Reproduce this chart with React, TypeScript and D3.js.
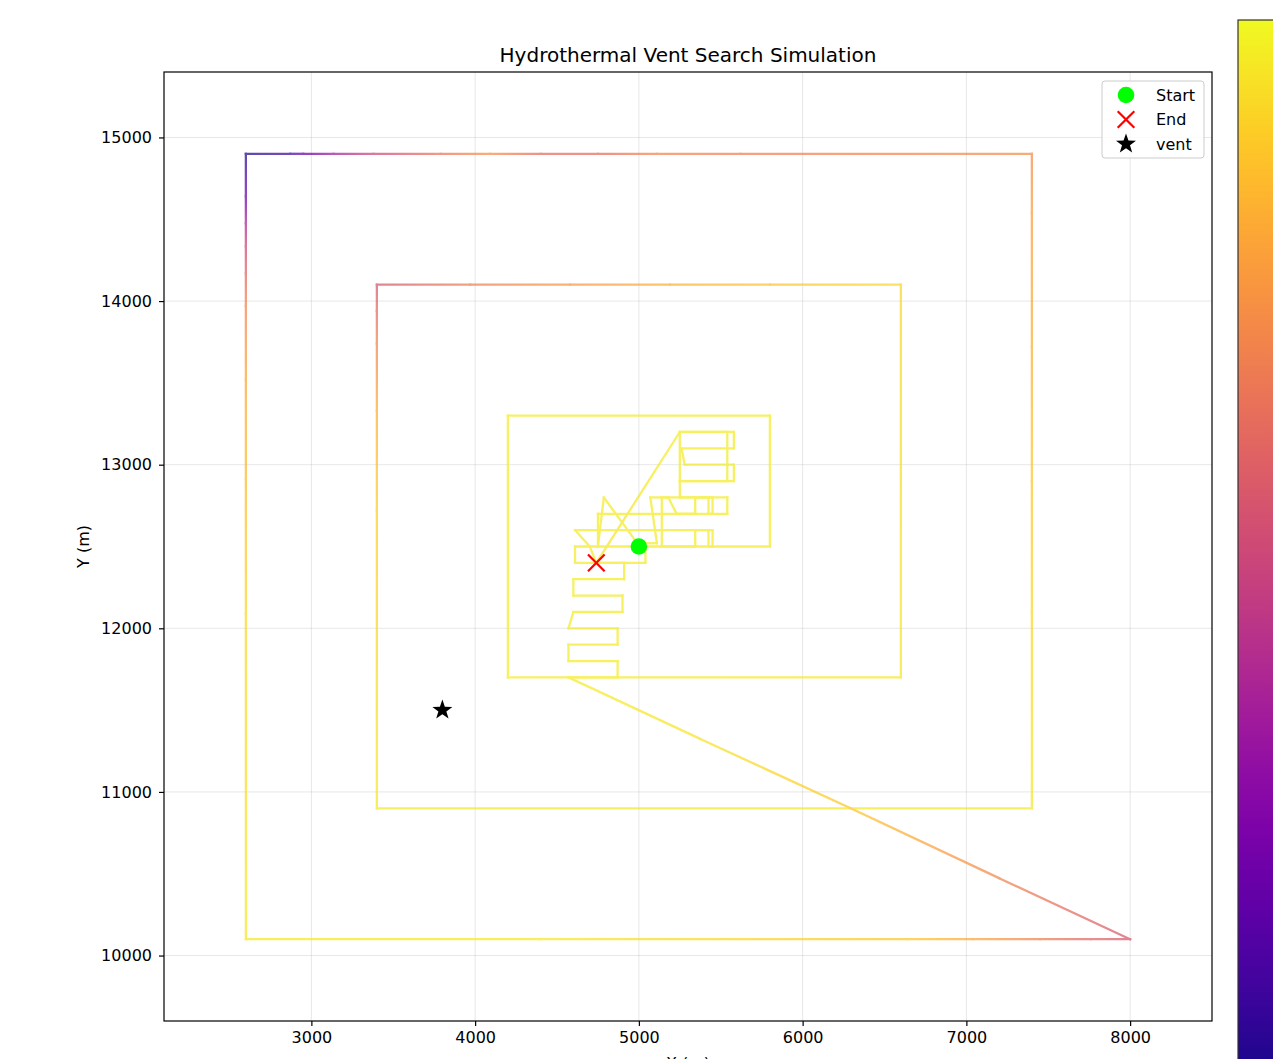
import React, { useEffect, useRef } from 'react';
import * as d3 from 'd3';

// survey track (m) and the sensor signal used for colouring (0..1)
const trackX = [
  5000, 5800, 5800, 4200, 4200, 6600, 6600, 5800, 5190, 4580, 3970, 3400,
  3400, 3400, 3400, 3400, 3400, 7400, 7400, 7400, 7400, 7400, 7400,
  5620, 5110, 4750, 4400, 4090, 3790, 3380, 3135, 2950, 2870, 2600,
  2600, 2600, 2600, 2600, 2600, 2600, 2600, 2600, 2600,
  4400, 6640, 7040, 7450, 7760, 8000,
  7200, 6290, 5375, 4570,
  4870, 4870, 4570, 4570, 4870, 4870, 4570, 4600, 4900, 4900, 4600, 4600, 4910, 4910, 4610, 4610, 5040, 5040, 4740,
  4700, 4610, 5450, 5450, 5425, 5425, 5344, 5344, 5140, 5140, 5540, 5540, 4750, 4750,
  4786, 4990, 5110, 5070, 5180, 5230, 5344, 5344, 5425, 5425, 5450, 5450, 5250,
  5250, 5580, 5580, 5260, 5280, 5580, 5580, 5250, 5540, 5540, 5250, 4740,
];
const trackY = [
  12500, 12500, 13300, 13300, 11700, 11700, 14100, 14100, 14100, 14100, 14100, 14100,
  13940, 13740, 13330, 12720, 10900, 10900, 12100, 12900, 13720, 14540, 14900,
  14900, 14900, 14900, 14900, 14900, 14900, 14900, 14900, 14900, 14900, 14900,
  14640, 14475, 14335, 14170, 13970, 13520, 12910, 12090, 10100,
  10100, 10100, 10100, 10100, 10100, 10100,
  10473, 10902, 11324, 11700,
  11700, 11800, 11800, 11900, 11900, 12000, 12000, 12100, 12100, 12200, 12200, 12300, 12300, 12400, 12400, 12500, 12500, 12400, 12400,
  12500, 12600, 12600, 12500, 12500, 12600, 12600, 12500, 12500, 12800, 12800, 12700, 12700, 12500,
  12800, 12520, 12520, 12800, 12800, 12700, 12700, 12800, 12800, 12700, 12700, 12800, 12800,
  13200, 13200, 13100, 13100, 13000, 13000, 12900, 12900, 12900, 13200, 13200, 12400,
];
const trackSignal = [
  0.97, 0.97, 0.97, 0.97, 0.97, 0.96, 0.92, 0.87, 0.82, 0.75, 0.68, 0.55,
  0.62, 0.7, 0.82, 0.9, 0.96, 0.96, 0.92, 0.88, 0.82, 0.77, 0.72,
  0.68, 0.7, 0.62, 0.62, 0.73, 0.65, 0.5, 0.35, 0.18, 0.1, 0.03,
  0.2, 0.38, 0.5, 0.6, 0.7, 0.8, 0.85, 0.92, 0.96,
  0.96, 0.88, 0.8, 0.68, 0.6, 0.55,
  0.7, 0.88, 0.95, 0.97,
  0.97, 0.97, 0.97, 0.97, 0.97, 0.97, 0.97, 0.97, 0.97, 0.97, 0.97, 0.97, 0.97, 0.97, 0.97, 0.97, 0.97, 0.97, 0.97,
  0.97, 0.97, 0.97, 0.97, 0.97, 0.97, 0.97, 0.97, 0.97, 0.97, 0.97, 0.97, 0.97, 0.97,
  0.97, 0.97, 0.97, 0.97, 0.97, 0.97, 0.97, 0.97, 0.97, 0.97, 0.97, 0.97, 0.97,
  0.97, 0.97, 0.97, 0.97, 0.97, 0.97, 0.97, 0.97, 0.97, 0.97, 0.97, 0.95,
];

const startPt = [5000, 12500];
const endPt = [4740, 12400];
const ventPt = [3800, 11500];

const xTicks = [3000, 4000, 5000, 6000, 7000, 8000];
const yTicks = [10000, 11000, 12000, 13000, 14000, 15000];
const legendLabels = ['Start', 'End', 'vent'];

const FONT = 'DejaVu Sans, sans-serif';

function starPath(cx: number, cy: number, r: number) {
  const pts: string[] = [];
  for (let i = 0; i < 10; i++) {
    const rad = i % 2 === 0 ? r : r * 0.4;
    const a = -Math.PI / 2 + (i * Math.PI) / 5;
    pts.push(`${cx + rad * Math.cos(a)},${cy + rad * Math.sin(a)}`);
  }
  return `M${pts.join('L')}Z`;
}

export default function App() {
  const svgRef = useRef<SVGSVGElement>(null);

  useEffect(() => {
    document.body.style.margin = '0';
    if (!svgRef.current) return;
    const root = d3.select(svgRef.current);
    root.selectAll('*').remove();

    const left = 164, right = 1212, top = 72, bottom = 1021;
    const x = d3.scaleLinear().domain([2100, 8500]).range([left, right]);
    const y = d3.scaleLinear().domain([9600, 15400]).range([bottom, top]);
    const cmap = d3.interpolatePlasma;
    const defs = root.append('defs');

    // grid
    const grid = root.append('g');
    xTicks.forEach((t) => {
      grid.append('line').attr('x1', x(t)).attr('x2', x(t)).attr('y1', top).attr('y2', bottom)
        .attr('stroke', '#b0b0b0').attr('stroke-opacity', 0.3).attr('stroke-width', 1);
    });
    yTicks.forEach((t) => {
      grid.append('line').attr('y1', y(t)).attr('y2', y(t)).attr('x1', left).attr('x2', right)
        .attr('stroke', '#b0b0b0').attr('stroke-opacity', 0.3).attr('stroke-width', 1);
    });

    // track, coloured segment by segment
    const plot = root.append('g').attr('opacity', 0.72);
    for (let i = 0; i < trackX.length - 1; i++) {
      const x1 = x(trackX[i]), y1 = y(trackY[i]);
      const x2 = x(trackX[i + 1]), y2 = y(trackY[i + 1]);
      const v1 = trackSignal[i], v2 = trackSignal[i + 1];
      let stroke = cmap(v1);
      if (v1 !== v2) {
        const id = `seg-${i}`;
        const g = defs.append('linearGradient').attr('id', id)
          .attr('gradientUnits', 'userSpaceOnUse')
          .attr('x1', x1).attr('y1', y1).attr('x2', x2).attr('y2', y2);
        d3.range(0, 1.0001, 0.25).forEach((t) => {
          g.append('stop').attr('offset', t).attr('stop-color', cmap(v1 + (v2 - v1) * t));
        });
        stroke = `url(#${id})`;
      }
      plot.append('line')
        .attr('x1', x1).attr('y1', y1).attr('x2', x2).attr('y2', y2)
        .attr('stroke', stroke).attr('stroke-width', 2.3)
        .attr('stroke-linecap', 'square');
    }

    // markers
    root.append('path').attr('d', starPath(x(ventPt[0]), y(ventPt[1]), 10.5)).attr('fill', 'black');
    root.append('circle').attr('cx', x(startPt[0])).attr('cy', y(startPt[1])).attr('r', 8.3).attr('fill', '#00ff00');
    const ex = x(endPt[0]), ey = y(endPt[1]), s = 8.3;
    root.append('path').attr('d', `M${ex - s},${ey - s}L${ex + s},${ey + s}M${ex - s},${ey + s}L${ex + s},${ey - s}`)
      .attr('stroke', 'red').attr('stroke-width', 2.2);

    // axes
    const xAxis = root.append('g').attr('transform', `translate(0,${bottom})`)
      .call(d3.axisBottom(x).tickValues(xTicks).tickFormat(d3.format('d')).tickSize(5).tickPadding(6));
    const yAxis = root.append('g').attr('transform', `translate(${left},0)`)
      .call(d3.axisLeft(y).tickValues(yTicks).tickFormat(d3.format('d')).tickSize(5).tickPadding(7));
    [xAxis, yAxis].forEach((a) => {
      a.select('.domain').remove();
      a.selectAll('text').attr('font-family', FONT).attr('font-size', 16).attr('fill', '#000');
      a.selectAll('line').attr('stroke', '#000').attr('stroke-width', 1.2);
    });
    root.append('rect').attr('x', left).attr('y', top).attr('width', right - left).attr('height', bottom - top)
      .attr('fill', 'none').attr('stroke', '#000').attr('stroke-width', 1.2);

    // labels
    root.append('text').attr('x', (left + right) / 2).attr('y', 62).attr('text-anchor', 'middle')
      .attr('font-family', FONT).attr('font-size', 20).text('Hydrothermal Vent Search Simulation');
    root.append('text').attr('x', (left + right) / 2).attr('y', 1069).attr('text-anchor', 'middle')
      .attr('font-family', FONT).attr('font-size', 16).text('X (m)');
    root.append('text').attr('transform', `translate(89,${(top + bottom) / 2}) rotate(-90)`)
      .attr('text-anchor', 'middle').attr('font-family', FONT).attr('font-size', 16).text('Y (m)');

    // legend
    const lg = root.append('g').attr('transform', 'translate(1102,81)');
    lg.append('rect').attr('width', 102).attr('height', 77).attr('rx', 3)
      .attr('fill', 'white').attr('fill-opacity', 0.8).attr('stroke', '#cccccc');
    legendLabels.forEach((lab, i) => {
      const cy = 14 + i * 24.5;
      if (i === 0) lg.append('circle').attr('cx', 24).attr('cy', cy).attr('r', 8.3).attr('fill', '#00ff00');
      if (i === 1) lg.append('path').attr('d', `M${24 - s},${cy - s}L${24 + s},${cy + s}M${24 - s},${cy + s}L${24 + s},${cy - s}`)
        .attr('stroke', 'red').attr('stroke-width', 2.2);
      if (i === 2) lg.append('path').attr('d', starPath(24, cy, 10.5)).attr('fill', 'black');
      lg.append('text').attr('x', 54).attr('y', cy + 5.5).attr('font-family', FONT).attr('font-size', 16).text(lab);
    });

    // colorbar
    const cbTop = 20, cbBottom = 1092;
    const cg = defs.append('linearGradient').attr('id', 'cbar').attr('x1', 0).attr('y1', 1).attr('x2', 0).attr('y2', 0);
    d3.range(0, 1.0001, 0.05).forEach((t) => {
      cg.append('stop').attr('offset', t).attr('stop-color', cmap(t));
    });
    root.append('rect').attr('x', 1238).attr('y', cbTop).attr('width', 60).attr('height', cbBottom - cbTop)
      .attr('fill', 'url(#cbar)').attr('stroke', '#333').attr('stroke-width', 1.2);
  }, []);

  return (
    <svg ref={svgRef} width={1273} height={1059} style={{ display: 'block', overflow: 'hidden' }} />
  );
}
